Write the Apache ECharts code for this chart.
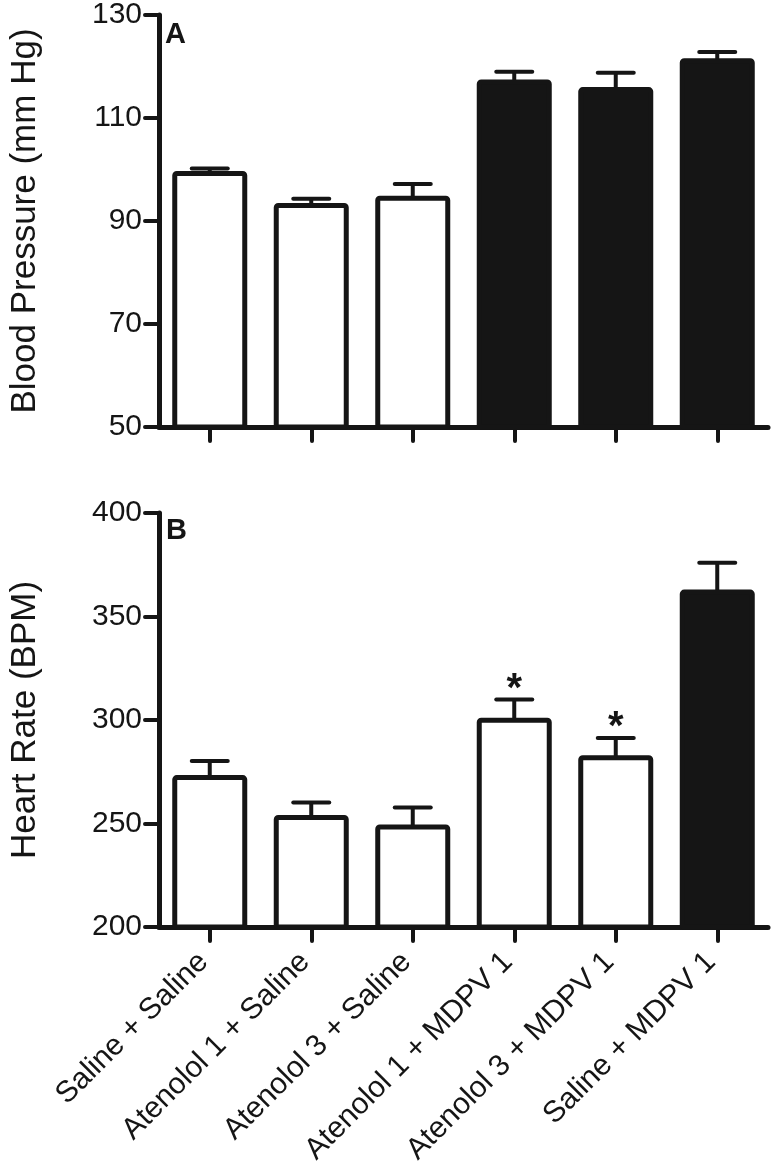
<!DOCTYPE html>
<html>
<head>
<meta charset="utf-8">
<script src="https://cdn.jsdelivr.net/npm/echarts@6/dist/echarts.min.js"></script>
<style>
html,body{margin:0;padding:0;background:#fff;}
#c{width:780px;height:1171px;}
</style>
</head>
<body>
<div id="c"></div>
<script>
const categories = ['Saline + Saline', 'Atenolol 1 + Saline', 'Atenolol 3 + Saline', 'Atenolol 1 + MDPV 1', 'Atenolol 3 + MDPV 1', 'Saline + MDPV 1'];
const bpMean = [99.7, 93.5, 94.9, 117.5, 116.0, 121.6];
const bpSem = [0.5, 0.8, 2.3, 1.5, 2.8, 1.2];
const bpSolid = [false, false, false, true, true, true];
const bpSig = ['', '', '', '', '', ''];
const hrMean = [273.4, 254.1, 249.5, 301.1, 283.0, 363.0];
const hrSem = [6.8, 6.1, 8.2, 8.8, 8.3, 13.0];
const hrSolid = [false, false, false, false, false, true];
const hrSig = ['', '', '', '*', '*', ''];
const bpTicks = {min: 50, max: 130, interval: 20};
const hrTicks = {min: 200, max: 400, interval: 50};

const INK = '#151515';
const FONT = "'Liberation Sans', Arial, Helvetica, sans-serif";

function barData(means, solid) {
  return means.map((v, i) => ({
    value: v,
    itemStyle: {color: solid[i] ? INK : '#ffffff'}
  }));
}
function errData(means, sems, sig) {
  return means.map((v, i) => [i, v, sems[i], sig[i]]);
}
function errRender(params, api) {
  const i = api.value(0), m = api.value(1), e = api.value(2);
  const s = api.value(3);
  const base = api.coord([i, m]);
  const top = api.coord([i, m + e]);
  const half = 18;
  const children = [
    {type: 'line', shape: {x1: base[0], y1: base[1] + 3, x2: top[0], y2: top[1]},
     style: {stroke: INK, lineWidth: 4}},
    {type: 'line', shape: {x1: top[0] - half, y1: top[1], x2: top[0] + half, y2: top[1]},
     style: {stroke: INK, lineWidth: 4, lineCap: 'round'}}
  ];
  if (s && s !== '-') {
    children.push({type: 'text', x: top[0], y: top[1] - 10,
      style: {text: String(s), fill: INK, font: 'bold 40px ' + FONT, align: 'center', verticalAlign: 'middle'}});
  }
  return {type: 'group', children: children};
}

const axisLineStyle = {color: INK, width: 5};
function yAxis(idx, ticks, name) {
  return {
    type: 'value', gridIndex: idx, min: ticks.min, max: ticks.max, interval: ticks.interval,
    name: name, nameLocation: 'middle', nameGap: 116,
    nameTextStyle: {fontFamily: FONT, fontSize: 35, color: INK},
    axisLine: {show: true, lineStyle: axisLineStyle},
    axisTick: {show: true, length: 14, lineStyle: {color: INK, width: 4, cap: 'round'}},
    axisLabel: {fontFamily: FONT, fontSize: 30, color: INK, margin: 17},
    splitLine: {show: false}
  };
}
function xAxis(idx, showLabels) {
  return {
    type: 'category', gridIndex: idx, data: categories, boundaryGap: true,
    axisLine: {show: true, lineStyle: axisLineStyle},
    axisTick: {show: true, alignWithLabel: true, length: 14, lineStyle: {color: INK, width: 4, cap: 'round'}},
    axisLabel: {show: showLabels, rotate: 45, interval: 0, fontFamily: FONT, fontSize: 30, color: INK,
                margin: 24, padding: [0, 9, 0, 0]},
    splitLine: {show: false}
  };
}

const chart = echarts.init(document.getElementById('c'), null, {renderer: 'canvas'});
chart.setOption({
  animation: false,
  backgroundColor: '#ffffff',
  title: [
    {text: 'A', left: 165, top: 20, padding: 0, textStyle: {fontFamily: FONT, fontSize: 29, fontWeight: 'bold', color: INK}},
    {text: 'B', left: 166, top: 516, padding: 0, textStyle: {fontFamily: FONT, fontSize: 29, fontWeight: 'bold', color: INK}}
  ],
  grid: [
    {left: 144, top: 13, width: 624, height: 414},
    {left: 144, top: 513, width: 624, height: 414}
  ],
  xAxis: [xAxis(0, false), xAxis(1, true)],
  yAxis: [yAxis(0, bpTicks, 'Blood Pressure (mm Hg)'), yAxis(1, hrTicks, 'Heart Rate (BPM)')],
  series: [
    {type: 'custom', xAxisIndex: 0, yAxisIndex: 0, z: 1, renderItem: errRender,
     encode: {x: 0, y: 1}, data: errData(bpMean, bpSem, bpSig)},
    {type: 'bar', xAxisIndex: 0, yAxisIndex: 0, z: 3, barWidth: 75,
     itemStyle: {borderColor: INK, borderWidth: 5, borderRadius: 2},
     data: barData(bpMean, bpSolid)},
    {type: 'custom', xAxisIndex: 1, yAxisIndex: 1, z: 1, renderItem: errRender,
     encode: {x: 0, y: 1}, data: errData(hrMean, hrSem, hrSig)},
    {type: 'bar', xAxisIndex: 1, yAxisIndex: 1, z: 3, barWidth: 75,
     itemStyle: {borderColor: INK, borderWidth: 5, borderRadius: 2},
     data: barData(hrMean, hrSolid)}
  ]
});
</script>
</body>
</html>
